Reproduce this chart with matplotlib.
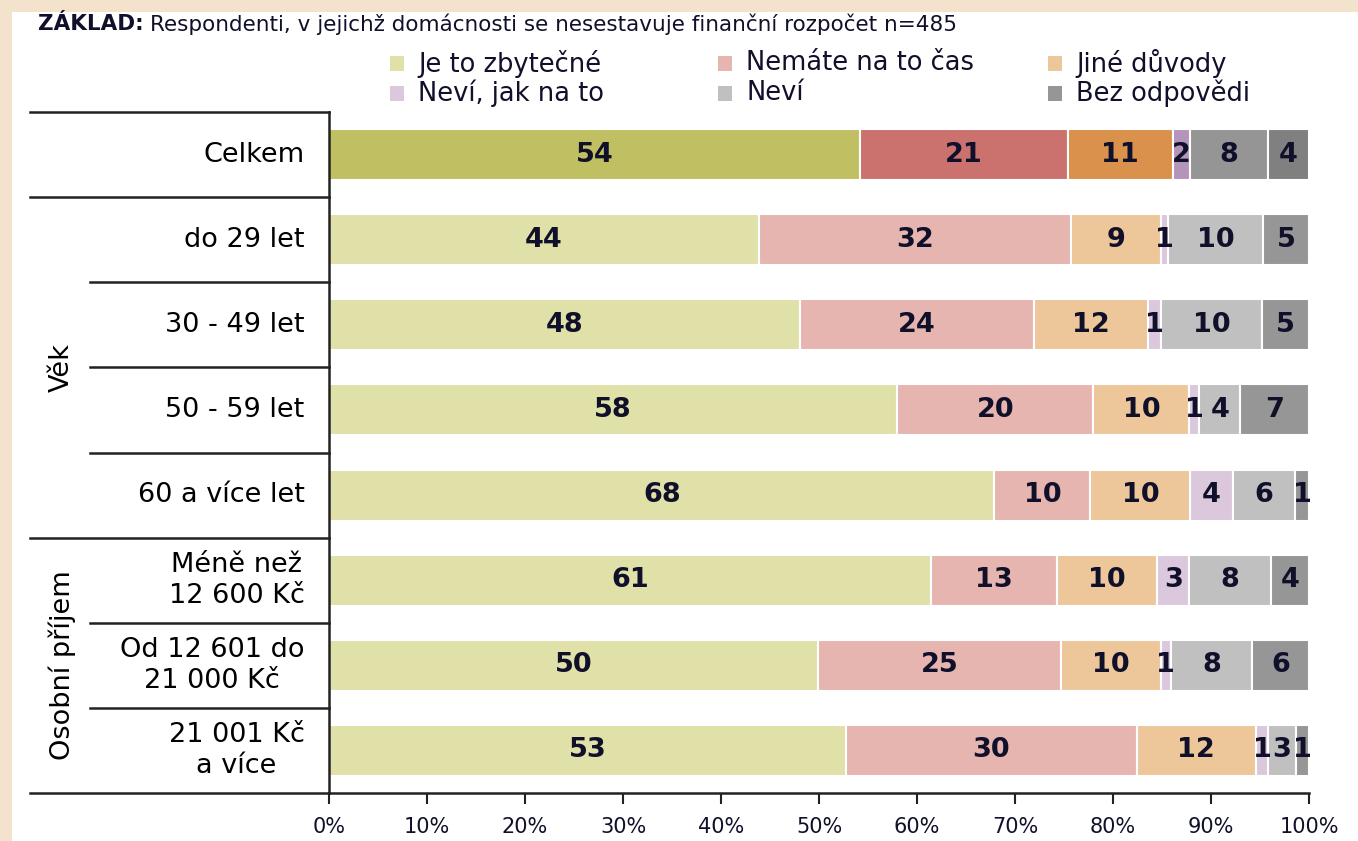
import matplotlib
matplotlib.use("Agg")
import matplotlib.pyplot as plt
from matplotlib.patches import Rectangle
import numpy as np

# kategorie (řádky grafu)
rows = ["Celkem", "do 29 let", "30 - 49 let", "50 - 59 let", "60 a více let",
        "Méně než\n12 600 Kč", "Od 12 601 do\n21 000 Kč", "21 001 Kč\na více"]

answers = ["Je to zbytečné", "Nemáte na to čas", "Jiné důvody",
           "Neví, jak na to", "Neví", "Bez odpovědi"]

# podíly v %
zbytecne = [54.2, 43.9, 48.1, 58.0, 67.9, 61.4, 49.9, 52.8]
nemate_cas = [21.2, 31.8, 23.8, 20.0, 9.8, 12.9, 24.8, 29.6]
jine = [10.7, 9.2, 11.7, 9.8, 10.2, 10.2, 10.2, 12.2]
nevi_jak = [1.8, 0.7, 1.3, 1.0, 4.3, 3.3, 1.0, 1.2]
nevi = [7.9, 9.7, 10.3, 4.2, 6.4, 8.3, 8.3, 2.9]
bez_odpovedi = [4.2, 4.7, 4.8, 7.0, 1.4, 3.9, 5.8, 1.3]

series = [zbytecne, nemate_cas, jine, nevi_jak, nevi, bez_odpovedi]

colors_total = ["#C0C062", "#CC726E", "#D9914B", "#B594BC", "#959595", "#808080"]
colors_light = ["#E0E0A9", "#E6B5B0", "#EDC699", "#DCC8DC", "#C0C0C0", "#969696"]

txt_col = "#10102a"

fig = plt.figure(figsize=(13.58, 8.41), dpi=100)
fig.patch.set_facecolor("white")

# béžový rámeček nahoře a vlevo
fig.patches.append(Rectangle((0, 1 - 12 / 841), 1, 12 / 841, transform=fig.transFigure,
                             facecolor="#F4E3CC", edgecolor="none", zorder=0))
fig.patches.append(Rectangle((0, 0), 12 / 1358, 1, transform=fig.transFigure,
                             facecolor="#F4E3CC", edgecolor="none", zorder=0))

ax = fig.add_axes([329 / 1358, 1 - 793 / 841, 980 / 1358, (793 - 112) / 841])

y = np.arange(len(rows))
left = np.zeros(len(rows))
for k, vals in enumerate(series):
    vals = np.array(vals)
    cols = [colors_total[k] if i == 0 else colors_light[k] for i in range(len(rows))]
    ax.barh(y, vals, left=left, height=0.6, color=cols, edgecolor="white", linewidth=1.5)
    for i in range(len(rows)):
        ax.text(left[i] + vals[i] / 2, y[i], f"{round(vals[i])}", ha="center", va="center",
                fontsize=19.5, fontweight="bold", color=txt_col)
    left += vals

ax.set_xlim(0, 100)
ax.set_ylim(7.5, -0.5)
ax.set_yticks([])
ax.set_xticks(np.arange(0, 101, 10))
ax.set_xticklabels([f"{v}%" for v in range(0, 101, 10)])
ax.tick_params(axis="x", direction="out", length=8, width=1.5, color="#222222",
               labelsize=15, labelcolor=txt_col, pad=9)
for s in ["top", "right"]:
    ax.spines[s].set_visible(False)
ax.spines["left"].set_linewidth(1.8)
ax.spines["bottom"].set_linewidth(1.8)
ax.spines["left"].set_color("#222222")
ax.spines["bottom"].set_color("#222222")

# čáry tabulky vlevo
tr = ax.get_yaxis_transform()
long_x = (30 - 329) / 980
short_x = (90 - 329) / 980
for yy in [-0.5, 0.5, 4.5, 7.5]:
    ax.plot([long_x, 0], [yy, yy], transform=tr, color="#222222", lw=1.8, clip_on=False)
for yy in [1.5, 2.5, 3.5, 5.5, 6.5]:
    ax.plot([short_x, 0], [yy, yy], transform=tr, color="#222222", lw=1.8, clip_on=False)

for i, r in enumerate(rows):
    ax.text(-0.025, i, r, transform=tr, ha="right", va="center", multialignment="center",
            fontsize=19.5, color="black", linespacing=1.25)

ax.text((62 - 329) / 980, 2.5, "Věk", transform=tr, rotation=90, ha="center", va="center",
        fontsize=19.5, color="black")
ax.text((62 - 329) / 980, 6.0, "Osobní příjem", transform=tr, rotation=90, ha="center",
        va="center", fontsize=19.5, color="black")

# legenda
leg_x = [390, 718, 1048]
leg_y = [63.5, 93.5]
order = [[0, 1, 2], [3, 4, 5]]
for r, yy in enumerate(leg_y):
    for c, xx in enumerate(leg_x):
        k = order[r][c]
        fig.patches.append(Rectangle((xx / 1358, 1 - (yy + 7) / 841), 14 / 1358, 14 / 841,
                                     transform=fig.transFigure, facecolor=colors_light[k],
                                     edgecolor="none"))
        fig.text((xx + 28) / 1358, 1 - yy / 841, answers[k], ha="left", va="center",
                 fontsize=18.5, color=txt_col)

# nadpis
t1 = fig.text(38 / 1358, 1 - 24 / 841, "ZÁKLAD:", ha="left", va="center", fontsize=15.5,
              fontweight="bold", color=txt_col)
fig.canvas.draw()
bb = t1.get_window_extent()
fig.text((bb.x1 + 6) / 1358, 1 - 24 / 841,
         "Respondenti, v jejichž domácnosti se nesestavuje finanční rozpočet n=485",
         ha="left", va="center", fontsize=15.5, color=txt_col)

plt.savefig("out.png", dpi=100)
